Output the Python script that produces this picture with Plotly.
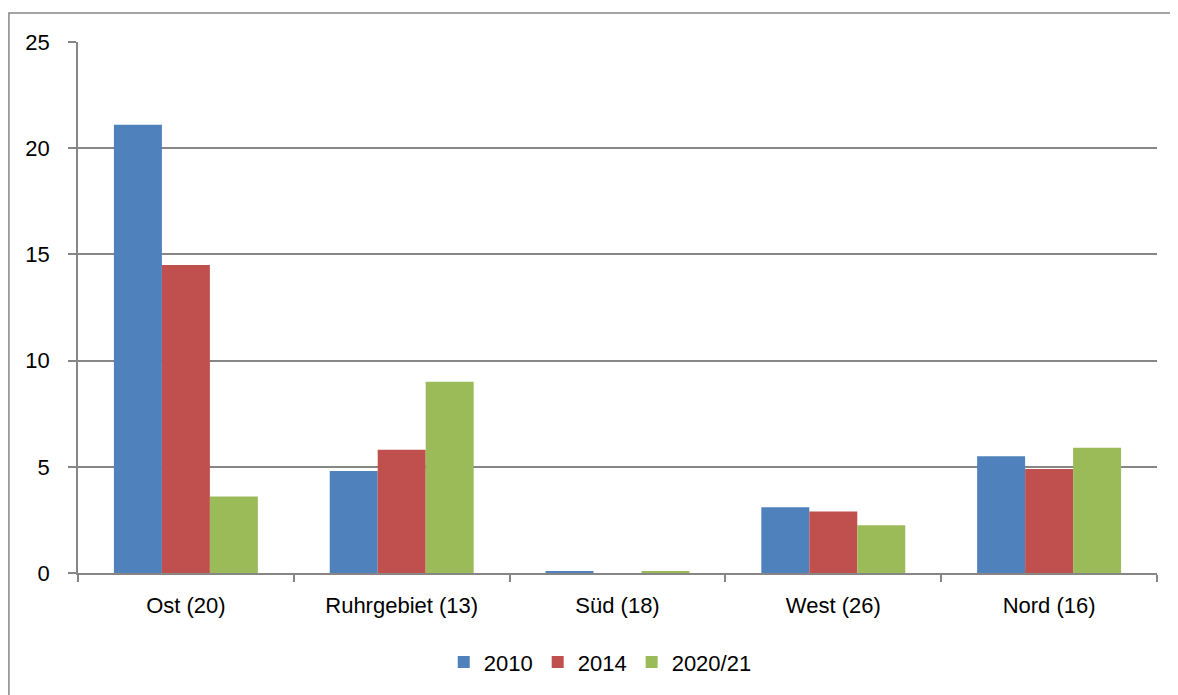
import plotly.graph_objects as go

# regions (number of sites in brackets)
regions = ["Ost (20)", "Ruhrgebiet (13)", "Süd (18)", "West (26)", "Nord (16)"]
years = ["2010", "2014", "2020/21"]
v2010 = [21.1, 4.8, 0.07, 3.1, 5.5]
v2014 = [14.5, 5.8, 0.0, 2.9, 4.9]
v2021 = [3.6, 9.0, 0.08, 2.25, 5.9]
colors = ["#4F81BD", "#C0504D", "#9BBB59"]

fig = go.Figure()
for name, vals, col in zip(years, [v2010, v2014, v2021], colors):
    fig.add_trace(go.Bar(x=regions, y=vals, name=name, marker_color=col,
                         marker_line_width=0))

grey = "#868686"
# page body adds an 8px offset, so margins are shifted accordingly
fig.update_layout(
    width=1178, height=695,
    margin=dict(l=70, r=29, t=34, b=130),
    paper_bgcolor="white", plot_bgcolor="white",
    font=dict(family="Liberation Sans, Arial, sans-serif", size=22, color="#000"),
    barmode="group", bargap=0.333, bargroupgap=0,
    showlegend=True,
    legend=dict(orientation="h", x=0.484, xanchor="center", y=-0.168, yanchor="middle",
                font=dict(size=22), itemwidth=30, traceorder="normal"),
    shapes=[dict(type="rect", xref="paper", yref="paper",
                 x0=-0.064, x1=1.0185, y0=-0.3, y1=1.0546,
                 line=dict(color=grey, width=1.5), layer="below")],
)
fig.update_xaxes(showline=True, linecolor=grey, linewidth=1.5,
                 ticks="outside", tickson="boundaries", ticklen=7, tickcolor=grey,
                 tickwidth=1.5, showgrid=False, ticklabelstandoff=12)
fig.update_yaxes(range=[0, 25], dtick=5, showline=True, linecolor=grey, linewidth=1.5,
                 ticks="outside", ticklen=8, tickcolor=grey, tickwidth=1.5,
                 showgrid=True, gridcolor=grey, gridwidth=1.5, zeroline=False,
                 ticklabelstandoff=14)

fig.write_html("out.html")
